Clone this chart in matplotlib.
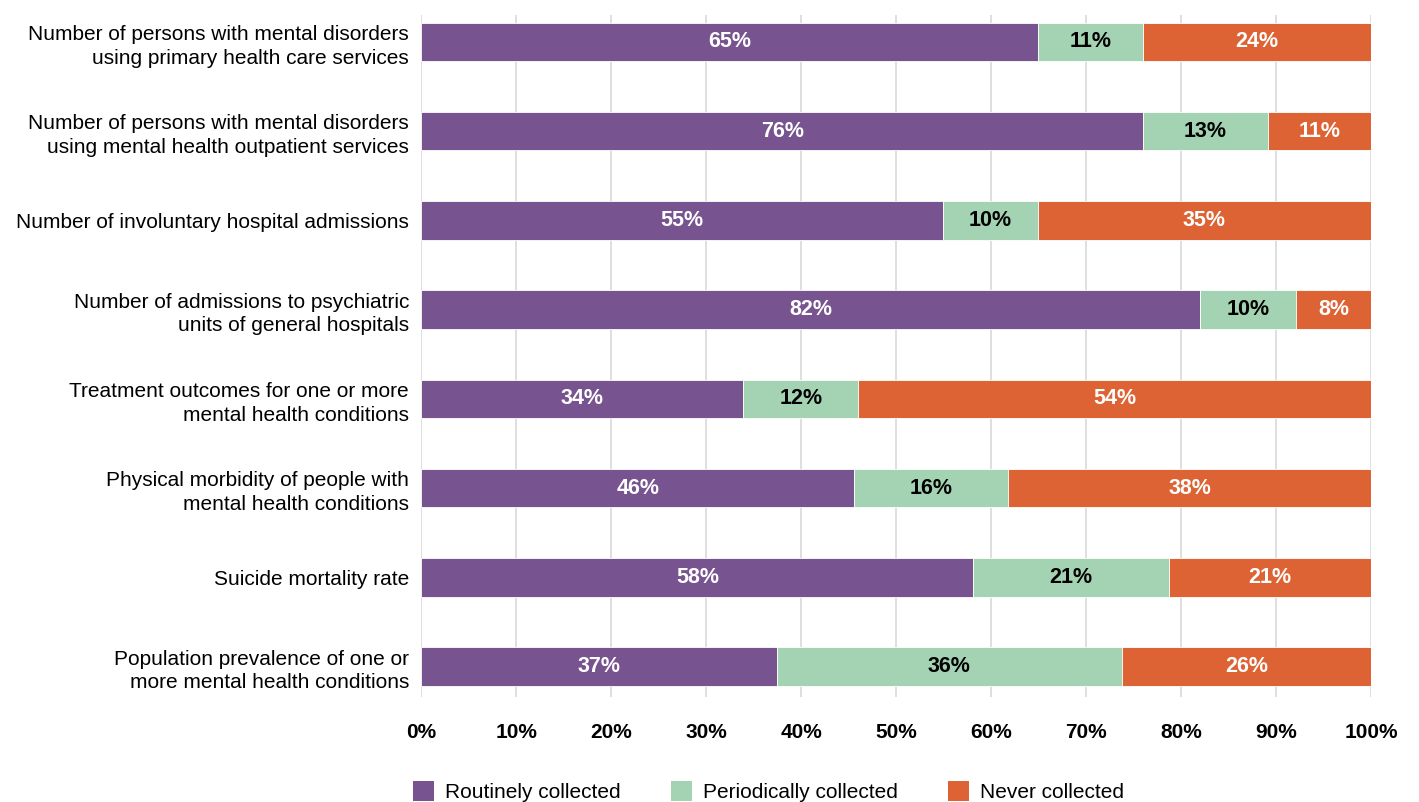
import numpy as np
import matplotlib.pyplot as plt
from matplotlib.patches import Patch

plt.rcParams['font.family'] = ['Liberation Sans', 'DejaVu Sans']

categories = [
    "Number of persons with mental disorders\nusing primary health care services",
    "Number of persons with mental disorders\nusing mental health outpatient services",
    "Number of involuntary hospital admissions",
    "Number of admissions to psychiatric\nunits of general hospitals",
    "Treatment outcomes for one or more\nmental health conditions",
    "Physical morbidity of people with\nmental health conditions",
    "Suicide mortality rate",
    "Population prevalence of one or\nmore mental health conditions",
]
routinely = [64.9, 76.0, 54.9, 82.0, 33.9, 45.6, 58.1, 37.4]
periodically = [11.1, 13.1, 10.0, 10.1, 12.1, 16.2, 20.6, 36.4]
never = [24.0, 10.9, 35.1, 7.9, 54.0, 38.2, 21.3, 26.2]

series = ["Routinely collected", "Periodically collected", "Never collected"]
colors = ["#77548f", "#a3d3b2", "#dd6334"]
text_colors = ["white", "black", "white"]

fig = plt.figure(figsize=(14.19, 8.02), dpi=100)
ax = fig.add_axes([421.5 / 1419, 1 - 697 / 802, (1371 - 421.5) / 1419, (697 - 15) / 802])

y = np.arange(len(categories))
left = np.zeros(len(categories))
for vals, col, tcol in zip([routinely, periodically, never], colors, text_colors):
    vals = np.array(vals)
    ax.barh(y, vals, left=left, height=0.43, color=col, edgecolor="white", linewidth=0.6, zorder=3)
    for yi, l, v in zip(y, left, vals):
        ax.text(l + v / 2, yi, "%d%%" % round(v), ha="center", va="center",
                color=tcol, fontsize=15.5, fontweight="bold", zorder=4)
    left += vals

ax.set_xlim(0, 100)
ax.set_ylim(len(categories) - 1 + 0.34, -0.3)
ax.set_xticks(np.arange(0, 101, 10))
ax.set_xticklabels(["%d%%" % t for t in range(0, 101, 10)], fontsize=15, fontweight="bold")
ax.set_yticks(y)
ax.set_yticklabels(categories, fontsize=15, ha="right", linespacing=1.32)
ax.tick_params(axis="x", length=0, pad=19)
ax.tick_params(axis="y", length=0, pad=9)
ax.grid(axis="x", color="#d9d9d9", linewidth=1.2, zorder=0)
for s in ax.spines.values():
    s.set_visible(False)

handles = [Patch(facecolor=c, edgecolor="none") for c in colors]
fig.legend(handles, series, loc="center", bbox_to_anchor=(0.5416, 0.013), ncol=3,
           frameon=False, fontsize=15, handlelength=1.0, handleheight=1.05,
           handletextpad=0.55, columnspacing=2.4, borderpad=0, borderaxespad=0)

fig.savefig("out.png", dpi=100)
